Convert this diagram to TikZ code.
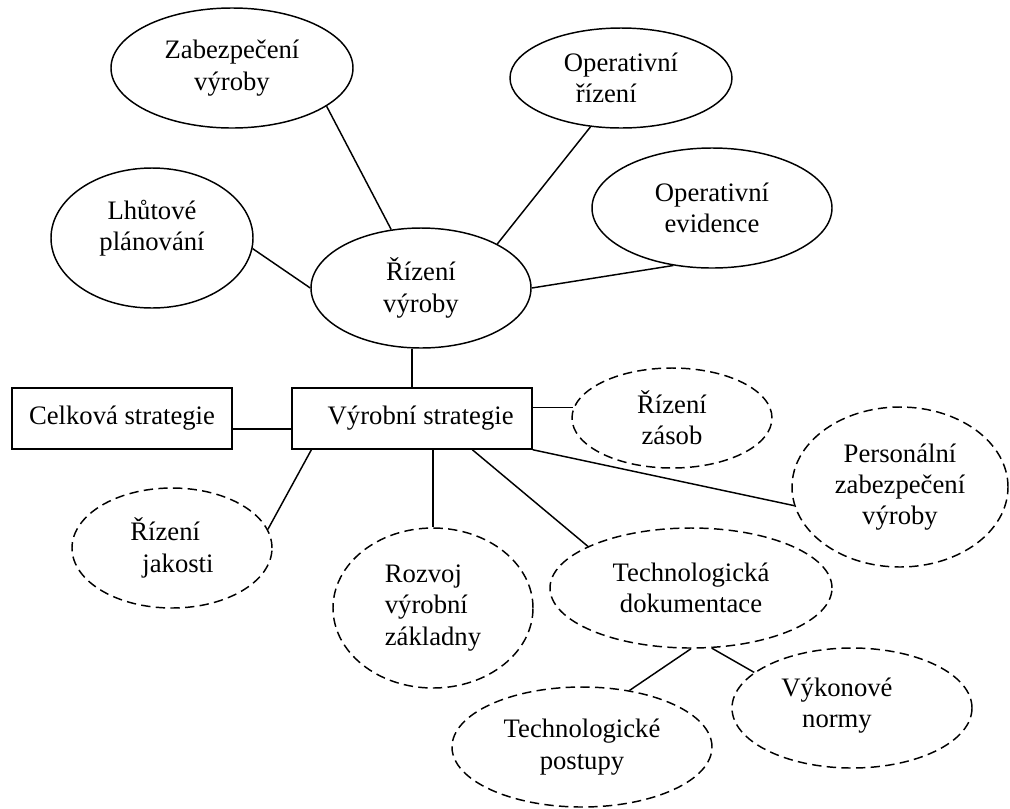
\documentclass[tikz,border=0pt]{standalone}
\usepackage{fontspec}
\setmainfont{Liberation Serif}
\usetikzlibrary{shapes.geometric,calc}
\begin{document}
\begin{tikzpicture}[x=0.75pt,y=-0.75pt,
  every node/.style={font=\fontsize{20}{23.5}\selectfont, align=center, inner sep=0pt},
  oval/.style={ellipse, draw, line width=1.1pt},
  dashoval/.style={oval, dash pattern=on 7pt off 4pt},
  box/.style={rectangle, draw, line width=1.1pt, minimum width=#1, minimum height=45.75pt},
  link/.style={line width=1.1pt}
]
\useasboundingbox (0,0) rectangle (1010,808);

% top ellipses
\node[oval, minimum width=181.5pt, minimum height=90pt] (zab) at (232,68) {Zabezpečení\\výroby};
\node[oval, minimum width=166.5pt, minimum height=75pt, align=left] (opr) at (621,78) {Operativní\\\hspace*{9pt}řízení};
\node[oval, minimum width=180pt, minimum height=90pt] (oev) at (712,208) {Operativní\\evidence};
\node[oval, minimum width=151.5pt, minimum height=105pt,
      label={[name=lhut, yshift=7.5pt]center:Lhůtové\\plánování}] (lhu) at (152,238) {};
\node[oval, minimum width=165pt, minimum height=90pt] (riz) at (421,288) {Řízení\\výroby};

% boxes
\node[box=165pt] (cel) at (122,418.5) {Celková strategie};
\node[box=180pt] (vyr) at (412,418.5) {\hspace*{13pt}Výrobní strategie};

% dashed ellipses
\node[dashoval, minimum width=150pt, minimum height=75pt] (zas) at (672,418) {Řízení\\zásob};
\node[dashoval, minimum width=162pt, minimum height=120pt] (per) at (900,487) {Personální\\zabezpečení\\výroby};
\node[dashoval, minimum width=150pt, minimum height=90pt, align=left] (jak) at (172,548) {Řízení\\\hspace*{9pt}jakosti};
\node[dashoval, minimum width=150pt, minimum height=120pt, align=left] (roz) at (433,608) {Rozvoj\\výrobní\\základny};
\node[dashoval, minimum width=211.5pt, minimum height=90pt] (tdk) at (691,588) {Technologická\\dokumentace};
\node[dashoval, minimum width=180pt, minimum height=90pt,
      label={[name=vykt, xshift=-11.25pt, yshift=2pt]center:Výkonové\\normy}] (vyk) at (852,708) {};
\node[dashoval, minimum width=195pt, minimum height=90pt] (pos) at (582,747) {Technologické\\postupy};

% connectors
\draw[link] (zab.-22) -- (riz.117);
\draw[link] (lhu.-6) -- (riz.west);
\draw[link] (opr.238) -- (riz.30);
\draw[link] (oev.236) -- (riz.east);
\draw[link] (vyr.north) -- (riz.south -| vyr.north);
\draw[link] ($(cel.east)+(0,10.5)$) -- ($(vyr.west)+(0,10.5)$);
\draw[link] (zas.174 -| vyr.east) -- (zas.174);
\draw[link] (vyr.south east) -- (per.190);
\draw[link] ($(vyr.south west)!0.75!(vyr.south east)$) -- (tdk.158);
\draw[link] (roz.north |- vyr.south) -- (roz.north);
\draw[link] ($(vyr.south west)!0.0833!(vyr.south east)$) -- (jak.11);
\draw[link] (tdk.south) -- (pos.50);
\draw[link] (tdk.289) -- (vyk.160);
\end{tikzpicture}
\end{document}
